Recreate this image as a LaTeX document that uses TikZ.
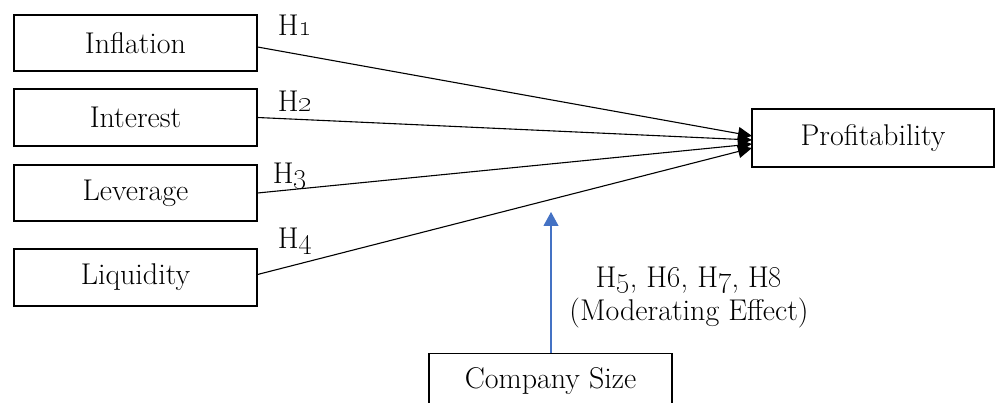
\documentclass[tikz,border=0pt]{standalone}
\usetikzlibrary{arrows.meta}
\definecolor{arrowblue}{HTML}{4472C4}
\begin{document}
\begin{tikzpicture}[x=1pt,y=-1pt,
  box/.style={draw=black,line width=1.1pt,rectangle,inner sep=0pt,font=\fontsize{30}{34}\selectfont},
  link/.style={line width=1.1pt,-{Triangle[length=14pt,width=13pt]}},
  modlink/.style={arrowblue,line width=1.1pt,-{Triangle[length=14pt,width=15pt]}},
  lbl/.style={font=\fontsize{30}{34}\selectfont,inner sep=0pt},
  modlbl/.style={font=\fontsize{30}{33}\selectfont,inner sep=0pt}]
\useasboundingbox (0,0) rectangle (995,403);
\node[box,minimum width=243pt,minimum height=56pt] (infl) at (135.5,43) {Inflation};
\node[box,minimum width=243pt,minimum height=57pt] (intr) at (135.5,117.5) {Interest};
\node[box,minimum width=243pt,minimum height=56pt] (lev) at (135.5,193) {Leverage};
\node[box,minimum width=243pt,minimum height=57pt] (liq) at (135.5,277.5) {Liquidity};
\node[box,minimum width=242pt,minimum height=58pt] (prof) at (873,138) {Profitability};
\node[box,minimum width=243pt,minimum height=80pt,anchor=north] (size) at (550.5,353) {};
\node[lbl] (sizetext) at (550.5,381) {Company Size};
\coordinate (e1) at (752,136);
\coordinate (e2) at (752,140);
\coordinate (e3) at (752,144);
\coordinate (e4) at (752,148);
\coordinate (modtip) at (551,212);
\draw[link] ([yshift=-4pt]infl.east) -- (e1);
\draw[link] (intr.east) -- (e2);
\draw[link] (lev.east) -- (e3);
\draw[link] ([yshift=3pt]liq.east) -- (e4);
\draw[modlink] (size.north -| modtip) -- (modtip);
\node[lbl] (h1) at (295,25) {H\oldstylenums{1}};
\node[lbl] (h2) at (295,101) {H\oldstylenums{2}};
\node[lbl] (h3) at (290,176) {H\oldstylenums{3}};
\node[lbl] (h4) at (295,241) {H\oldstylenums{4}};
\node[modlbl,align=center] (mod) at (689,298) {H\oldstylenums{5}, H\oldstylenums{6}, H\oldstylenums{7}, H\oldstylenums{8}\\(Moderating Effect)};
\end{tikzpicture}
\end{document}
